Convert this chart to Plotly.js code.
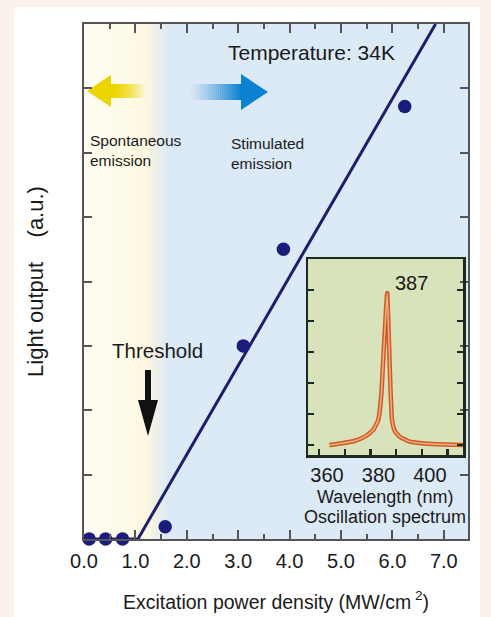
<!DOCTYPE html>
<html><head><meta charset="utf-8">
<script src="https://cdn.plot.ly/plotly-3.0.1.min.js"></script>
<style>html,body{margin:0;padding:0;background:#fbf1ec;overflow:hidden}#chart{width:491px;height:617px}</style>
</head><body><div id="chart"></div>
<script>
// ---- data ----
const powerDensity = [0.10, 0.42, 0.75, 1.58, 3.10, 3.88, 6.24];
const lightOutput  = [0.00, 0.00, 0.00, 0.19, 3.00, 4.50, 6.72];
const fitPower  = [0.10, 1.05, 6.84];
const fitOutput = [0.00, 0.00, 8.00];
const xTickVals = [0, 1, 2, 3, 4, 5, 6, 7];
const xTickText = ['0.0', '1.0', '2.0', '3.0', '4.0', '5.0', '6.0', '7.0'];
const yTickVals = [1, 2, 3, 4, 5, 6, 7];
const wavelength = [364, 369, 374, 378, 381, 383, 384.2, 385.0, 385.8, 386.5, 387.1, 387.7, 388.4, 389.5, 391.5, 395, 400, 406, 412, 416];
const intensity  = [0.00, 0.06, 0.14, 0.28, 0.48, 0.80, 1.60, 2.80, 4.00, 4.90, 3.60, 2.00, 0.80, 0.45, 0.26, 0.12, 0.06, 0.03, 0.01, 0.00];
const insetTickVals = [360, 380, 400];
const insetTickText = ['360', '380', '400'];
const insetYTickVals = [0, 1, 2, 3, 4, 5];

// ---- layout geometry (pixels) ----
const W = 491, H = 617, L = 84, R = 468, T = 24, B = 539;
const px = x => (x - L) / (R - L);
const py = y => (B - y) / (B - T);
const FONT = 'Liberation Sans, Arial, Helvetica, sans-serif';

const shapes = [];
function rect(x0, y0, x1, y1, color) {
  shapes.push({type: 'rect', xref: 'paper', yref: 'paper', layer: 'below',
    x0: px(x0), x1: px(x1), y0: py(y1), y1: py(y0), fillcolor: color, line: {width: 0}});
}
function poly(pts, color) {
  const d = pts.map((p, i) => (i ? 'L' : 'M') + px(p[0]).toFixed(5) + ',' + py(p[1]).toFixed(5)).join(' ') + ' Z';
  shapes.push({type: 'path', xref: 'paper', yref: 'paper', layer: 'below', path: d, fillcolor: color, line: {width: 0}});
}
// white panel
rect(14, 7, 480, 617, '#ffffff');
// background of plot area: pale yellow -> light blue
const stops = [[84, [255, 253, 244]], [128, [254, 250, 230]], [148, [252, 247, 224]], [158, [234, 239, 234]], [168, [220, 233, 247]], [468, [220, 233, 247]]];
function colAt(x) {
  for (let i = 0; i < stops.length - 1; i++) {
    const a = stops[i], b = stops[i + 1];
    if (x >= a[0] && x <= b[0]) {
      const t = (x - a[0]) / (b[0] - a[0]);
      return 'rgb(' + a[1].map((v, k) => Math.round(v + (b[1][k] - v) * t)).join(',') + ')';
    }
  }
  return 'rgb(220,233,247)';
}
for (let x = 84; x < 172; x += 2) rect(x, T, x + 2.2, B, colAt(x + 1));
rect(172, T, 468, B, 'rgb(220,233,247)');
// inset background
rect(308, 259, 463, 455, '#d9e3bb');
// yellow arrow (left)
poly([[87, 91], [111, 75], [111, 107]], 'rgb(236,212,0)');
for (let x = 110; x < 144; x += 2) {
  const a = Math.max(0, 1 - Math.pow((x - 110) / 34, 1.6));
  rect(x, 84, x + 2.2, 98, 'rgba(236,212,0,' + a.toFixed(3) + ')');
}
// blue arrow (right)
poly([[268, 92], [241, 74], [241, 110]], 'rgb(10,130,208)');
for (let x = 188; x < 242; x += 2) {
  const a = Math.min(1, Math.pow((x - 188) / 52, 1.3));
  rect(x, 84, x + 2.2, 100, 'rgba(10,130,208,' + a.toFixed(3) + ')');
}
// threshold arrow
poly([[145, 370], [151, 370], [151, 400], [158, 400], [148, 436], [138, 400], [145, 400]], '#111111');

function note(text, x, y, size, xanchor, extra) {
  return Object.assign({text: text, xref: 'paper', yref: 'paper', x: px(x), y: py(y), showarrow: false,
    xanchor: xanchor || 'center', yanchor: 'middle', align: xanchor === 'left' ? 'left' : 'center',
    font: {family: FONT, size: size, color: '#1a1a1a'}}, extra || {});
}
const annotations = [
  note('Temperature: 34K', 311, 52, 21),
  note('Spontaneous<br>emission', 88, 151, 15.5, 'left'),
  note('Stimulated<br>emission', 229, 153, 15.5, 'left'),
  note('Threshold', 157, 350, 20.5),
  note('387', 411, 283, 20),
  note('Wavelength (nm)', 385, 497, 18),
  note('Oscillation spectrum', 385, 517, 18)
];

const traces = [
  {x: fitPower, y: fitOutput, type: 'scatter', mode: 'lines', line: {color: '#1e1e6e', width: 3}, xaxis: 'x', yaxis: 'y', hoverinfo: 'skip'},
  {x: powerDensity, y: lightOutput, type: 'scatter', mode: 'markers', marker: {color: '#1c1c7c', size: 13.5}, xaxis: 'x', yaxis: 'y', cliponaxis: false},
  {x: wavelength, y: intensity, type: 'scatter', mode: 'lines', line: {color: '#cf5a28', width: 4.5, shape: 'spline', smoothing: 0.4}, xaxis: 'x2', yaxis: 'y2'},
  {x: wavelength, y: intensity, type: 'scatter', mode: 'lines', line: {color: '#f2b07e', width: 1.5, shape: 'spline', smoothing: 0.4}, xaxis: 'x2', yaxis: 'y2'}
];

const layout = {
  width: W, height: H, showlegend: false,
  margin: {l: L, r: W - R, t: T, b: H - B, pad: 0},
  paper_bgcolor: '#fbf1ec', plot_bgcolor: 'rgba(0,0,0,0)',
  font: {family: FONT, color: '#1a1a1a'},
  xaxis: {
    domain: [0, 1], range: [0, (R - L) / 51.4], tickmode: 'array', tickvals: xTickVals, ticktext: xTickText,
    ticks: 'inside', ticklen: 9, tickwidth: 2, tickcolor: '#555', ticklabelstandoff: 3,
    minor: {tickmode: 'linear', tick0: 0, dtick: 0.5, ticks: 'inside', ticklen: 5, tickwidth: 2, tickcolor: '#555'},
    showline: true, linecolor: '#555', linewidth: 2, mirror: 'ticks',
    showgrid: false, zeroline: false, tickfont: {size: 20, color: '#1a1a1a'},
    title: {text: 'Excitation power density (MW/cm<sup> 2</sup>)', font: {size: 19.5, color: '#1a1a1a'}, standoff: 24}
  },
  yaxis: {
    domain: [0, 1], range: [0, 8], tickmode: 'array', tickvals: yTickVals,
    ticks: 'inside', ticklen: 8, tickwidth: 2, tickcolor: '#555', showticklabels: false,
    showline: true, linecolor: '#555', linewidth: 2, mirror: 'ticks',
    showgrid: false, zeroline: false,
    title: {text: 'Light output\u00a0\u00a0\u00a0 (a.u.)', font: {size: 22, color: '#1a1a1a'}, standoff: 32}
  },
  xaxis2: {
    domain: [px(308), px(463)], anchor: 'y2', range: [355.7, 416.0],
    tickmode: 'array', tickvals: insetTickVals, ticktext: insetTickText, ticklabelshift: 8,
    ticks: 'inside', ticklen: 6, tickwidth: 2.5, tickcolor: '#1e2a1e',
    minor: {tickmode: 'linear', tick0: 360, dtick: 10, ticks: 'inside', ticklen: 6, tickwidth: 2.5, tickcolor: '#1e2a1e'},
    showline: true, linecolor: '#1e2a1e', linewidth: 2.5, mirror: true,
    showgrid: false, zeroline: false, tickfont: {size: 20, color: '#1a1a1a'}
  },
  yaxis2: {
    domain: [py(455), py(259)], anchor: 'x2', range: [-0.32, 6.0],
    tickmode: 'array', tickvals: insetYTickVals, showticklabels: false,
    ticks: 'inside', ticklen: 6, tickwidth: 2.5, tickcolor: '#1e2a1e',
    showline: true, linecolor: '#1e2a1e', linewidth: 2.5, mirror: 'ticks',
    showgrid: false, zeroline: false
  },
  shapes: shapes,
  annotations: annotations
};
Plotly.newPlot('chart', traces, layout, {displayModeBar: false, staticPlot: true});
</script>
</body></html>
